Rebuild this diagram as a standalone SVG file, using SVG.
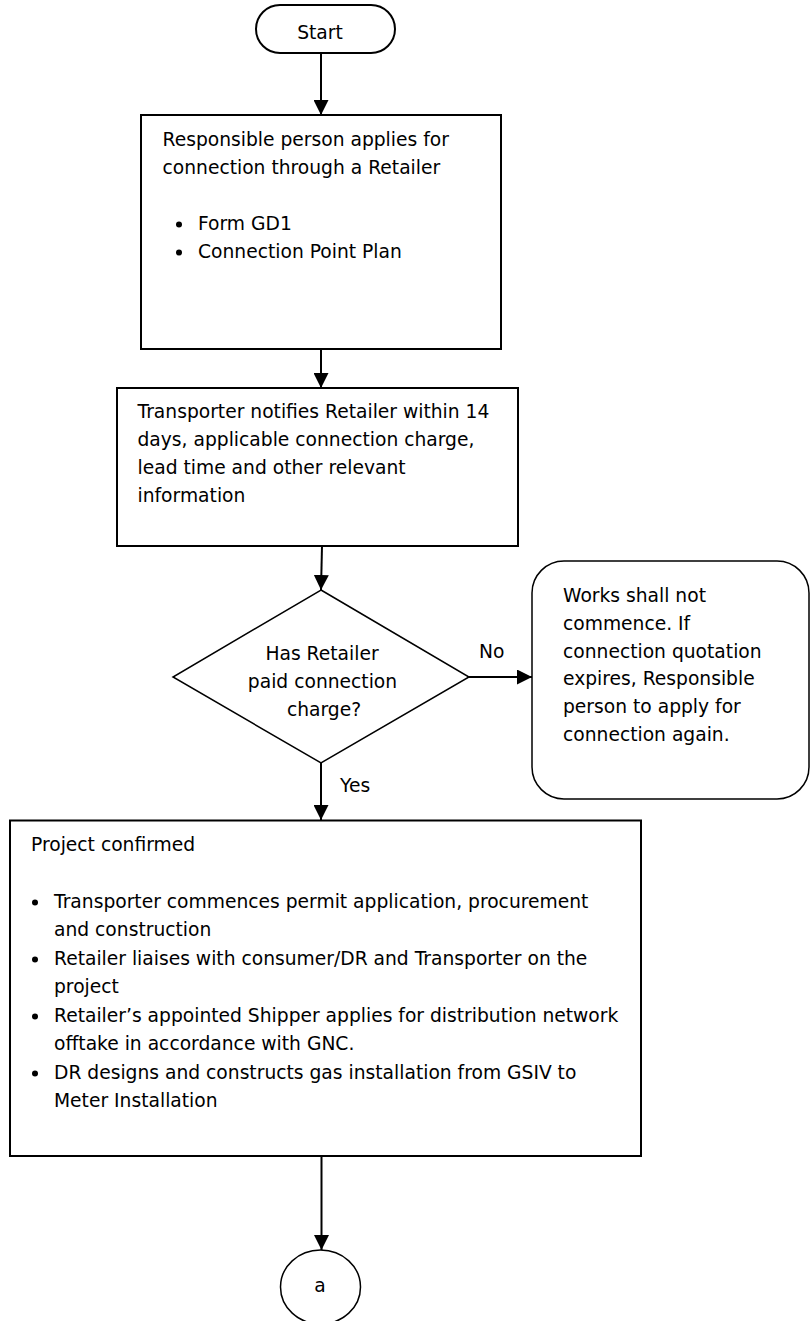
<svg xmlns="http://www.w3.org/2000/svg" width="811" height="1321" viewBox="0 0 811 1321">
<style>
text{font-family:"DejaVu Sans","Liberation Sans",sans-serif;font-size:18.7px;fill:#000}
.box{fill:#fff;stroke:#000;stroke-width:2}
.thin{fill:#fff;stroke:#000;stroke-width:1.5}
.conn{fill:none;stroke:#000;stroke-width:2}
.mid{text-anchor:middle}
.dot{fill:#000}
</style>
<defs>
<marker id="arr" markerUnits="userSpaceOnUse" markerWidth="15" markerHeight="15" refX="15" refY="7.5" orient="auto">
<path d="M0,0 L15,7.5 L0,15 z" fill="#000"/>
</marker>
</defs>
<rect width="811" height="1321" fill="#fff"/>
<g id="connectors">
<line class="conn" x1="321" y1="53" x2="321" y2="115" marker-end="url(#arr)"/>
<line class="conn" x1="321" y1="349" x2="321" y2="388" marker-end="url(#arr)"/>
<line class="conn" x1="322" y1="546" x2="321" y2="590" marker-end="url(#arr)"/>
<line class="conn" x1="469" y1="677" x2="532" y2="677" marker-end="url(#arr)"/>
<line class="conn" x1="321" y1="763" x2="321" y2="820" marker-end="url(#arr)"/>
<line class="conn" x1="321.5" y1="1156" x2="321.5" y2="1250" marker-end="url(#arr)"/>
<text x="479" y="658">No</text>
<text x="340" y="792">Yes</text>
</g>
<g id="start">
<rect class="box" x="256" y="5" width="139" height="48" rx="24"/>
<text class="mid" x="320" y="39">Start</text>
</g>
<g id="apply">
<rect class="box" x="141" y="115" width="360" height="234"/>
<text x="162.5" y="145.5">Responsible person applies for</text>
<text x="162.5" y="173.5">connection through a Retailer</text>
<circle class="dot" cx="179" cy="224.5" r="3"/>
<text x="198" y="230">Form GD1</text>
<circle class="dot" cx="179" cy="252.5" r="3"/>
<text x="198" y="258">Connection Point Plan</text>
</g>
<g id="notify">
<rect class="box" x="117" y="388" width="401" height="158"/>
<text x="137.5" y="418">Transporter notifies Retailer within 14</text>
<text x="137.5" y="446">days, applicable connection charge,</text>
<text x="137.5" y="474">lead time and other relevant</text>
<text x="137.5" y="502">information</text>
</g>
<g id="decision">
<polygon class="thin" points="321,590 469,677 321,763 173,677"/>
<text class="mid" x="322" y="660">Has Retailer</text>
<text class="mid" x="322.5" y="688">paid connection</text>
<text class="mid" x="324" y="715.5">charge?</text>
</g>
<g id="no-works">
<rect class="thin" x="532" y="561" width="277" height="238" rx="32"/>
<text x="563" y="602">Works shall not</text>
<text x="563" y="629.5">commence. If</text>
<text x="563" y="657.5">connection quotation</text>
<text x="563" y="685">expires, Responsible</text>
<text x="563" y="713">person to apply for</text>
<text x="563" y="741">connection again.</text>
</g>
<g id="project">
<rect class="box" x="10" y="820.5" width="631" height="335.5"/>
<text x="31" y="850.5">Project confirmed</text>
<circle class="dot" cx="35" cy="902.5" r="3"/>
<text x="54" y="908">Transporter commences permit application, procurement</text>
<text x="54" y="935.5">and construction</text>
<circle class="dot" cx="35" cy="959.5" r="3"/>
<text x="54" y="965">Retailer liaises with consumer/DR and Transporter on the</text>
<text x="54" y="992.5">project</text>
<circle class="dot" cx="35" cy="1016.5" r="3"/>
<text x="54" y="1022">Retailer’s appointed Shipper applies for distribution network</text>
<text x="54" y="1049.5">offtake in accordance with GNC.</text>
<circle class="dot" cx="35" cy="1073.5" r="3"/>
<text x="54" y="1079">DR designs and constructs gas installation from GSIV to</text>
<text x="54" y="1106.5">Meter Installation</text>
</g>
<g id="connector-a">
<ellipse class="thin" cx="320.5" cy="1287" rx="40" ry="37"/>
<text class="mid" x="320" y="1292">a</text>
</g>
</svg>
